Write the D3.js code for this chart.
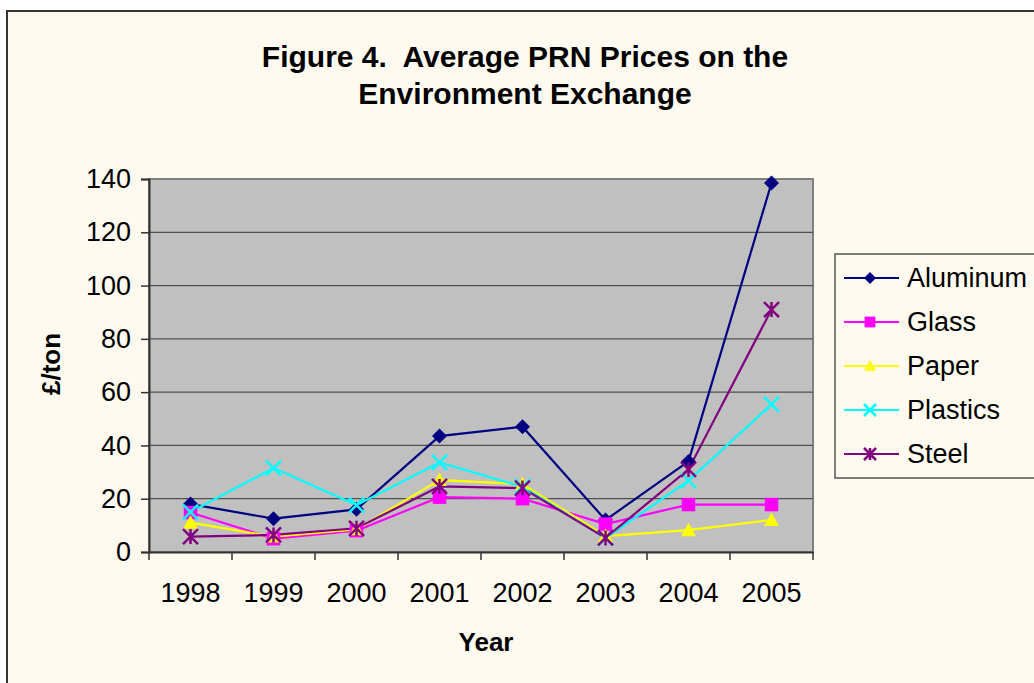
<!DOCTYPE html>
<html>
<head>
<meta charset="utf-8">
<script src="https://cdn.jsdelivr.net/npm/d3@7"></script>
<style>
  body { margin: 0; background: #fff; }
  text { font-family: Arial, "Liberation Sans", sans-serif; }
</style>
</head>
<body>
<div id="chart"></div>
<script>
var years = ["1998", "1999", "2000", "2001", "2002", "2003", "2004", "2005"];
var aluminum = [18, 12.5, 16, 43.5, 47, 12, 34, 138.5];
var glass = [14.8, 5, 8, 20.6, 20, 10.5, 17.8, 17.8];
var paper = [11, 5.8, 8.5, 27, 25.5, 6, 8.2, 12];
var plastics = [15, 31.5, 17.6, 33.6, 24.5, 5.2, 26.8, 55.4];
var steel = [5.8, 6.4, 8.9, 24.6, 24, 5.3, 31, 91];
var seriesNames = ["Aluminum", "Glass", "Paper", "Plastics", "Steel"];
var yTicks = [0, 20, 40, 60, 80, 100, 120, 140];

var allSeries = [aluminum, glass, paper, plastics, steel];
var colors = ["#000080", "#FF00FF", "#FFFF00", "#00FFFF", "#800080"];
var shapes = ["diamond", "square", "triangle", "x", "star"];

var W = 1034, H = 683;
var plot = {left: 149, top: 179, right: 813, bottom: 552};
var font = "Arial, 'Liberation Sans', sans-serif";

var svg = d3.select("#chart").append("svg")
    .attr("width", W)
    .attr("height", H);

// chart frame
svg.append("rect")
    .attr("x", 7).attr("y", 11)
    .attr("width", W + 10).attr("height", H + 10)
    .attr("fill", "#FFFAEF")
    .attr("stroke", "#333")
    .attr("stroke-width", 2);

svg.append("text")
    .attr("x", 525).attr("y", 67)
    .attr("text-anchor", "middle")
    .style("font-size", "30px").style("font-weight", "bold")
    .style("white-space", "pre")
    .text("Figure 4.  Average PRN Prices on the");
svg.append("text")
    .attr("x", 525).attr("y", 104)
    .attr("text-anchor", "middle")
    .style("font-size", "30px").style("font-weight", "bold")
    .text("Environment Exchange");

var x = d3.scaleBand().domain(years).range([plot.left, plot.right]);
var y = d3.scaleLinear().domain([0, 140]).range([plot.bottom, plot.top]);

// plot area
svg.append("rect")
    .attr("x", plot.left).attr("y", plot.top)
    .attr("width", plot.right - plot.left).attr("height", plot.bottom - plot.top)
    .attr("fill", "#C0C0C0")
    .attr("stroke", "#808080")
    .attr("stroke-width", 2);

svg.append("g")
    .selectAll("line")
    .data(yTicks.slice(1, -1))
    .join("line")
    .attr("x1", plot.left).attr("x2", plot.right)
    .attr("y1", function(d) { return y(d) }).attr("y2", function(d) { return y(d) })
    .attr("stroke", "#505050")
    .attr("stroke-width", 1.3);

// y axis
var yAxis = svg.append("g")
    .attr("transform", "translate(" + plot.left + ",0)")
    .call(d3.axisLeft(y).tickValues(yTicks).tickSize(8).tickPadding(10));
yAxis.select(".domain").attr("stroke", "#333").attr("stroke-width", 2);
yAxis.selectAll(".tick line").attr("stroke", "#333").attr("stroke-width", 1.5);
yAxis.selectAll("text")
    .style("font-size", "27px").attr("fill", "#000")
    .style("font-family", font);

// x axis
var xAxis = svg.append("g")
    .attr("transform", "translate(0," + plot.bottom + ")")
    .call(d3.axisBottom(x).tickSize(0).tickPadding(31));
xAxis.select(".domain").attr("stroke", "#333").attr("stroke-width", 2);
xAxis.selectAll("text")
    .style("font-size", "27px").attr("fill", "#000")
    .style("font-family", font);
xAxis.selectAll(".boundary")
    .data(d3.range(years.length + 1))
    .join("line")
    .attr("x1", function(i) { return plot.left + i * x.step() })
    .attr("x2", function(i) { return plot.left + i * x.step() })
    .attr("y1", 0).attr("y2", 8)
    .attr("stroke", "#333").attr("stroke-width", 1.5);

svg.append("text")
    .attr("x", 486).attr("y", 651)
    .attr("text-anchor", "middle")
    .style("font-size", "26px").style("font-weight", "bold")
    .text("Year");

svg.append("text")
    .attr("transform", "translate(60,364) rotate(-90)")
    .attr("text-anchor", "middle")
    .style("font-size", "26px").style("font-weight", "bold")
    .text("£/ton");

function drawMarker(g, shape, color, s) {
  if (shape === "diamond") {
    g.append("path").attr("d", "M0," + (-s) + "L" + s + ",0L0," + s + "L" + (-s) + ",0Z").attr("fill", color);
  } else if (shape === "square") {
    g.append("rect").attr("x", -s * 0.9).attr("y", -s * 0.9).attr("width", s * 1.8).attr("height", s * 1.8).attr("fill", color);
  } else if (shape === "triangle") {
    g.append("path").attr("d", "M0," + (-s) + "L" + s + "," + (s * 0.8) + "L" + (-s) + "," + (s * 0.8) + "Z").attr("fill", color);
  } else if (shape === "x") {
    g.append("path").attr("d", "M" + (-s) + "," + (-s) + "L" + s + "," + s + "M" + s + "," + (-s) + "L" + (-s) + "," + s)
      .attr("stroke", color).attr("stroke-width", 2.5).attr("fill", "none");
  } else {
    g.append("path").attr("d", "M" + (-s) + "," + (-s) + "L" + s + "," + s + "M" + s + "," + (-s) + "L" + (-s) + "," + s + "M0," + (-s) + "L0," + s)
      .attr("stroke", color).attr("stroke-width", 2.5).attr("fill", "none");
  }
}

var line = d3.line()
    .x(function(d, i) { return x(years[i]) + x.bandwidth() / 2 })
    .y(function(d) { return y(d) });

allSeries.forEach(function(data, k) {
  svg.append("path")
    .datum(data)
    .attr("d", line)
    .attr("fill", "none")
    .attr("stroke", colors[k])
    .attr("stroke-width", 2.2);
});
allSeries.forEach(function(data, k) {
  data.forEach(function(v, i) {
    var g = svg.append("g")
      .attr("transform", "translate(" + (x(years[i]) + x.bandwidth() / 2) + "," + y(v) + ")");
    drawMarker(g, shapes[k], colors[k], 7.5);
  });
});

// legend
var legend = svg.append("g");
legend.append("rect")
    .attr("x", 835).attr("y", 254)
    .attr("width", 220).attr("height", 224)
    .attr("fill", "#FFFAEF")
    .attr("stroke", "#555").attr("stroke-width", 1.5);

seriesNames.forEach(function(name, k) {
  var ly = 278 + k * 44;
  legend.append("line")
    .attr("x1", 844).attr("x2", 899)
    .attr("y1", ly).attr("y2", ly)
    .attr("stroke", colors[k]).attr("stroke-width", 2.2);
  var g = legend.append("g").attr("transform", "translate(870," + ly + ")");
  drawMarker(g, shapes[k], colors[k], 6);
  legend.append("text")
    .attr("x", 907).attr("y", ly + 9)
    .style("font-size", "27px")
    .text(name);
});
</script>
</body>
</html>
